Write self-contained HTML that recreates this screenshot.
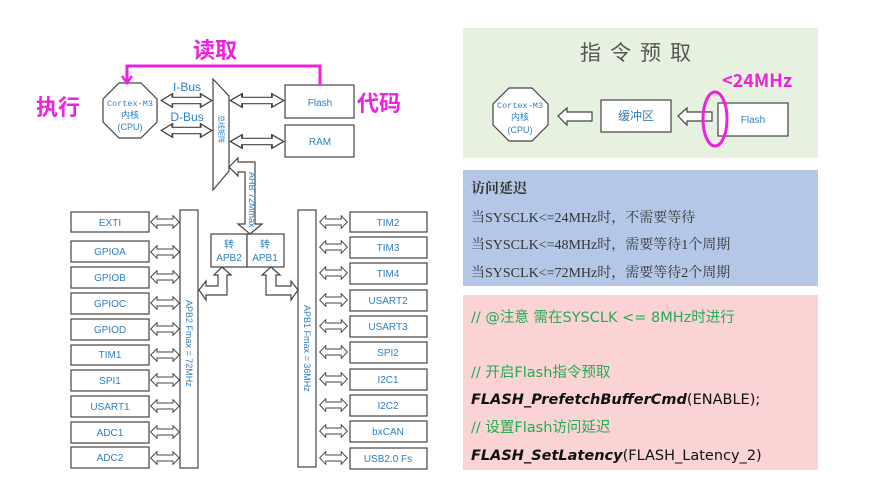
<!DOCTYPE html>
<html><head><meta charset="utf-8"><style>
html,body{margin:0;padding:0;background:#fff;width:875px;height:490px;overflow:hidden}
svg{position:absolute;left:0;top:0}
.b{font-family:"Liberation Sans","Noto Sans CJK SC",sans-serif;font-size:10px;fill:#2f7fbf}
.m{font-family:"Noto Sans CJK SC","WenQuanYi Zen Hei",sans-serif;fill:#ee22dd;font-weight:bold}
.s{font-family:"Liberation Serif","Noto Serif CJK SC",serif;font-size:14px;fill:#333}
.g{font-family:"DejaVu Sans","Noto Sans CJK SC",sans-serif;font-size:14.5px;fill:#22aa55}
.k{font-family:"DejaVu Sans","Noto Sans CJK SC",sans-serif;font-size:14.5px;fill:#111}
</style></head><body>
<svg width="875" height="490" viewBox="0 0 875 490">
<defs>
<symbol id="da" viewBox="0 0 30 14" preserveAspectRatio="none"><polygon points="0.7,7 7,0.7 7,4 23,4 23,0.7 29.3,7 23,13.3 23,10 7,10 7,13.3" fill="#fff" stroke="#444" stroke-width="1"/></symbol>
</defs>
<g stroke="#444" fill="#fff" stroke-width="1.2">
<polygon points="119,83 141,83 157,99 157,122 141,138 119,138 103,122 103,99"/>
<polygon points="213,79 229,96 229,171 213,190"/>
<rect x="285" y="85" width="69" height="33"/>
<rect x="285" y="125" width="69" height="32"/>
<rect x="211" y="234" width="36" height="33"/><rect x="247" y="234" width="37" height="33"/>
<rect x="180" y="210" width="18" height="258"/>
<rect x="298" y="210" width="18" height="257"/>
<polygon points="229,167 238,158 238,162 255,162 255,224 262,224 250,234 238,224 245,224 245,172 238,172 238,176"/>
<polygon points="222,267 231,275 227,275 227,295 206,295 206,300 199,290 206,281 206,286 218,286 218,275 214,275"/>
<polygon points="271,267 280,275 276,275 276,286 291,286 291,281 298,290 291,300 291,295 266,295 266,275 262,275"/>
</g>
<use href="#da" x="160" y="93" width="53" height="15"/>
<use href="#da" x="160" y="123" width="53" height="15"/>
<use href="#da" x="229" y="93" width="56" height="15"/>
<use href="#da" x="229" y="134" width="56" height="15"/>
<g class="b" text-anchor="middle">
<text x="130" y="106" font-size="8.5" font-family="Liberation Mono,monospace">Cortex-M3</text><text x="130" y="118" font-size="9">内核</text><text x="130" y="130" font-size="9">(CPU)</text>
<text x="187" y="91" font-size="12">I-Bus</text><text x="187" y="121" font-size="12">D-Bus</text>
<text x="320" y="106">Flash</text><text x="320" y="145">RAM</text>
<text x="229" y="248">转</text><text x="229" y="261">APB2</text>
<text x="265" y="248">转</text><text x="265" y="261">APB1</text>
<text transform="translate(219,115) rotate(90)" font-size="7" text-anchor="start">总线矩阵</text>
<text transform="translate(249,172) rotate(90)" font-size="9" text-anchor="start">AHB 72Mmax</text>
<text transform="translate(186,300) rotate(90)" font-size="9" text-anchor="start">APB2 Fmax = 72MHz</text>
<text transform="translate(304,305) rotate(90)" font-size="9" text-anchor="start">APB1 Fmax = 36MHz</text>
</g>
<g stroke="#444" fill="#fff" stroke-width="1.2">
<rect x="71" y="212" width="78" height="20"/><rect x="71" y="241" width="78" height="21"/><rect x="71" y="267" width="78" height="21"/><rect x="71" y="293" width="78" height="21"/><rect x="71" y="319" width="78" height="21"/><rect x="71" y="345" width="78" height="20"/><rect x="71" y="370" width="78" height="21"/><rect x="71" y="396" width="78" height="21"/><rect x="71" y="422" width="78" height="21"/><rect x="71" y="447" width="78" height="21"/>
<rect x="350" y="212" width="77" height="20"/><rect x="350" y="237" width="77" height="21"/><rect x="350" y="263" width="77" height="21"/><rect x="350" y="290" width="77" height="21"/><rect x="350" y="316" width="77" height="21"/><rect x="350" y="342" width="77" height="21"/><rect x="350" y="369" width="77" height="21"/><rect x="350" y="395" width="77" height="21"/><rect x="350" y="421" width="77" height="21"/><rect x="350" y="448" width="77" height="21"/>
</g>
<g>
<use href="#da" x="150" y="215" width="30" height="14"/><use href="#da" x="150" y="245" width="30" height="14"/><use href="#da" x="150" y="270" width="30" height="14"/><use href="#da" x="150" y="296" width="30" height="14"/><use href="#da" x="150" y="322" width="30" height="14"/><use href="#da" x="150" y="348" width="30" height="14"/><use href="#da" x="150" y="373" width="30" height="14"/><use href="#da" x="150" y="399" width="30" height="14"/><use href="#da" x="150" y="425" width="30" height="14"/><use href="#da" x="150" y="451" width="30" height="14"/>
<use href="#da" x="319" y="215" width="29" height="14"/><use href="#da" x="319" y="240" width="29" height="14"/><use href="#da" x="319" y="266" width="29" height="14"/><use href="#da" x="319" y="293" width="29" height="14"/><use href="#da" x="319" y="319" width="29" height="14"/><use href="#da" x="319" y="345" width="29" height="14"/><use href="#da" x="319" y="372" width="29" height="14"/><use href="#da" x="319" y="398" width="29" height="14"/><use href="#da" x="319" y="424" width="29" height="14"/><use href="#da" x="319" y="451" width="29" height="14"/>
</g>
<g class="b" text-anchor="middle">
<text x="110" y="226">EXTI</text><text x="110" y="255">GPIOA</text><text x="110" y="281">GPIOB</text><text x="110" y="307">GPIOC</text><text x="110" y="333">GPIOD</text><text x="110" y="358">TIM1</text><text x="110" y="384">SPI1</text><text x="110" y="410">USART1</text><text x="110" y="436">ADC1</text><text x="110" y="461">ADC2</text>
<text x="388" y="226">TIM2</text><text x="388" y="251">TIM3</text><text x="388" y="277">TIM4</text><text x="388" y="304">USART2</text><text x="388" y="330">USART3</text><text x="388" y="356">SPI2</text><text x="388" y="383">I2C1</text><text x="388" y="409">I2C2</text><text x="388" y="435">bxCAN</text><text x="388" y="462">USB2.0 Fs</text>
</g>
<polyline points="320,85 320,66 127,66 127,82" fill="none" stroke="#ee22dd" stroke-width="3"/>
<polyline points="122,76 127,83 132,76" fill="none" stroke="#ee22dd" stroke-width="2.5"/>
<text class="m" x="193" y="58" font-size="22">读取</text>
<text class="m" x="36" y="115" font-size="22">执行</text>
<text class="m" x="357" y="111" font-size="22">代码</text>
<rect x="463" y="28" width="355" height="130" fill="#e6f1df"/>
<rect x="463" y="170" width="355" height="116" fill="#b4c7e6"/>
<rect x="463" y="295" width="355" height="175" fill="#fbd3d4"/>
<text x="640" y="60" text-anchor="middle" font-family="Noto Sans CJK SC,sans-serif" font-size="21" fill="#555" letter-spacing="9">指令预取</text>
<g stroke="#444" fill="#fff" stroke-width="1.2">
<polygon points="509,88 532,88 548,104 548,125 532,141 509,141 493,125 493,104"/>
<rect x="601" y="100" width="70" height="32"/>
<rect x="718" y="103" width="70" height="33"/>
<polygon points="558,116 567,108 567,112 592,112 592,121 567,121 567,125"/>
<polygon points="678,116 687,108 687,112 712,112 712,121 687,121 687,125"/>
</g>
<g class="b" text-anchor="middle">
<text x="520" y="108" font-size="8.5" font-family="Liberation Mono,monospace">Cortex-M3</text><text x="520" y="120" font-size="9">内核</text><text x="520" y="133" font-size="9">(CPU)</text>
<text x="636" y="120" font-size="12">缓冲区</text><text x="753" y="123">Flash</text>
</g>
<ellipse cx="715" cy="119" rx="12" ry="27" fill="none" stroke="#ee22dd" stroke-width="3"/>
<text class="m" x="722" y="87" font-size="18">&lt;24MHz</text>
<text class="s" x="471" y="193" font-weight="bold" font-family="Noto Sans CJK SC,sans-serif">访问延迟</text>
<text class="s" x="471" y="222">当SYSCLK&lt;=24MHz时，不需要等待</text>
<text class="s" x="471" y="249">当SYSCLK&lt;=48MHz时，需要等待1个周期</text>
<text class="s" x="471" y="277">当SYSCLK&lt;=72MHz时，需要等待2个周期</text>
<text class="g" x="471" y="322">// @注意 需在SYSCLK &lt;= 8MHz时进行</text>
<text class="g" x="471" y="377">// 开启Flash指令预取</text>
<text class="k" x="471" y="404"><tspan font-weight="bold" font-style="italic">FLASH_PrefetchBufferCmd</tspan>(ENABLE);</text>
<text class="g" x="471" y="432">// 设置Flash访问延迟</text>
<text class="k" x="471" y="460"><tspan font-weight="bold" font-style="italic">FLASH_SetLatency</tspan>(FLASH_Latency_2)</text>
</svg>
</body></html>
